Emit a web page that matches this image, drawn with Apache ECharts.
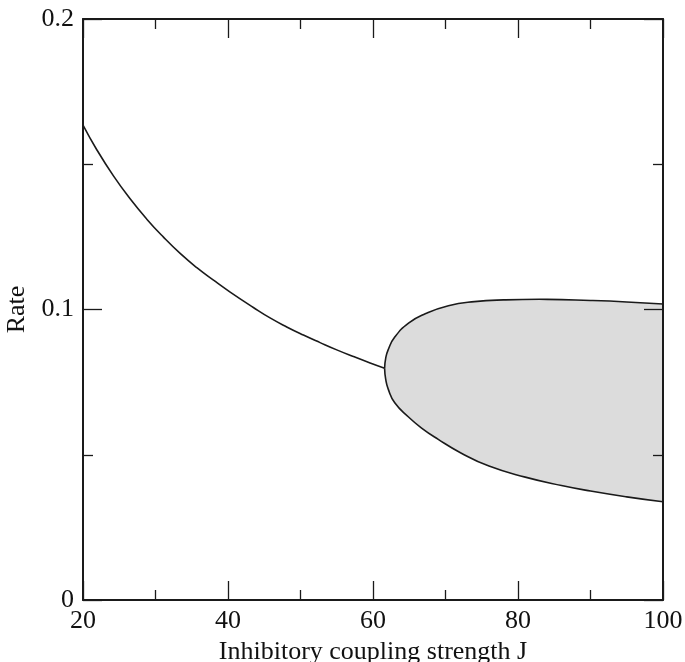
<!DOCTYPE html>
<html>
<head>
<meta charset="utf-8">
<script src="https://cdn.jsdelivr.net/npm/echarts@6/dist/echarts.min.js"></script>
<style>
html,body{margin:0;padding:0;background:#fff;}
#chart{width:685px;height:662px;}
</style>
</head>
<body>
<div id="chart"></div>
<script>
// Main (single-branch) rate curve
var mainJ    = [20, 21.9, 24.2, 26.5, 28.8, 31.1, 33.4, 35.7, 38, 40.3, 43.5, 45.8, 48.1, 50.4, 52.7, 55, 57.3, 59.6, 61.6];
var mainRate = [0.1635, 0.1550, 0.1460, 0.1381, 0.1311, 0.1249, 0.1193, 0.1144, 0.1101, 0.1060, 0.1007, 0.0971, 0.0940, 0.0912, 0.0886, 0.0861, 0.0838, 0.0816, 0.0798];
// Upper branch of the oscillation region
var upperJ    = [61.6, 61.75, 62.1, 63.0, 64.9, 67.2, 70.4, 74, 78, 84, 90, 95, 100];
var upperRate = [0.0798, 0.0832, 0.0862, 0.0905, 0.0953, 0.0985, 0.1013, 0.1027, 0.1033, 0.1035, 0.1031, 0.1026, 0.1019];
// Lower branch of the oscillation region
var lowerJ    = [61.6, 61.75, 62.1, 63.0, 64.9, 66.7, 69, 72, 76, 81, 86, 90, 95, 100];
var lowerRate = [0.0798, 0.0760, 0.0726, 0.0679, 0.0630, 0.0592, 0.0553, 0.0508, 0.0461, 0.0423, 0.0394, 0.0375, 0.0355, 0.0338];
// Axis ticks
var xTicks = [20, 40, 60, 80, 100];
var yTicks = [0, 0.1, 0.2];

function pairs(xs, ys){ return xs.map(function(x,i){ return [x, ys[i]]; }); }

var mainData = pairs(mainJ, mainRate);
var upperData = pairs(upperJ, upperRate);
var lowerData = pairs(lowerJ, lowerRate);

var font = 'Liberation Serif';
var axisCol = '#1a1a1a';
var lineCol = '#1a1a1a';

function baseAxis(extra){
  var a = {
    type: 'value',
    z: 5,
    axisLine: {show: true, onZero: false, lineStyle: {color: axisCol, width: 2}},
    axisTick: {show: true, inside: true, length: 19, lineStyle: {color: axisCol, width: 1.3}},
    minorTick: {show: true, splitNumber: 2, length: 10, lineStyle: {color: axisCol, width: 1.3}},
    splitLine: {show: false},
    minorSplitLine: {show: false}
  };
  for (var k in extra) a[k] = extra[k];
  return a;
}

var chart = echarts.init(document.getElementById('chart'), null, {renderer: 'canvas'});
chart.setOption({
  backgroundColor: '#fff',
  animation: false,
  grid: {left: 83, right: 22, top: 19, bottom: 62, containLabel: false, outerBoundsMode: 'none'},
  xAxis: [
    baseAxis({min: xTicks[0], max: xTicks[xTicks.length-1], interval: 20, position: 'bottom',
      name: 'Inhibitory coupling strength J', nameLocation: 'middle', nameGap: 32,
      nameTextStyle: {fontFamily: font, fontSize: 26, color: '#111'},
      axisLabel: {show: true, fontFamily: font, fontSize: 26, color: '#111', margin: 8}}),
    baseAxis({min: xTicks[0], max: xTicks[xTicks.length-1], interval: 20, position: 'top',
      axisLabel: {show: false}})
  ],
  yAxis: [
    baseAxis({min: yTicks[0], max: yTicks[yTicks.length-1], interval: 0.1, position: 'left',
      name: 'Rate', nameLocation: 'middle', nameGap: 49,
      nameTextStyle: {fontFamily: font, fontSize: 26, color: '#111'},
      axisLabel: {show: true, fontFamily: font, fontSize: 26, color: '#111', margin: 9,
        formatter: function(v){ return String(+v.toFixed(2)); }}}),
    baseAxis({min: yTicks[0], max: yTicks[yTicks.length-1], interval: 0.1, position: 'right',
      axisLabel: {show: false}})
  ],
  series: [
    {
      type: 'custom',
      xAxisIndex: 0, yAxisIndex: 0,
      data: [[mainJ[0], mainRate[0]]],
      clip: true,
      silent: true,
      z: 2,
      renderItem: function(params, api){
        function c(arr){ return arr.map(function(p){ return api.coord(p); }); }
        var up = c(upperData), lo = c(lowerData);
        var uEnd = up[up.length - 1], lEnd = lo[lo.length - 1];
        // closed loop: upper branch, short vertical edge along the frame, lower branch back to the tip
        var loop = up.concat([[uEnd[0], uEnd[1] + 2], [lEnd[0], lEnd[1] - 2]])
                     .concat(lo.slice(1).reverse());
        var stroke = {fill: null, stroke: lineCol, lineWidth: 1.6};
        return {
          type: 'group',
          children: [
            {type: 'polygon', shape: {points: loop, smooth: 0.5},
             style: {fill: '#dcdcdc', stroke: null}},
            {type: 'polyline', shape: {points: up, smooth: 0.5}, style: stroke},
            {type: 'polyline', shape: {points: lo, smooth: 0.5}, style: stroke},
            {type: 'polyline', shape: {points: c(mainData), smooth: 0.5}, style: stroke}
          ]
        };
      }
    }
  ]
});
</script>
</body>
</html>
